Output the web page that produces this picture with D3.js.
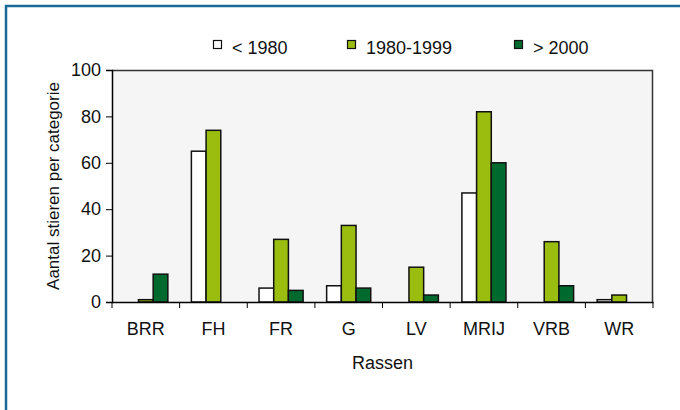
<!DOCTYPE html>
<html>
<head>
<meta charset="utf-8">
<script src="https://cdn.jsdelivr.net/npm/d3@7"></script>
<style>
  html, body { margin: 0; padding: 0; background: #fff; }
  text { font-family: "Liberation Sans", Arial, sans-serif; fill: #111; }
</style>
</head>
<body>
<svg id="chart" width="680" height="410"></svg>
<script>
const categories = ["BRR", "FH", "FR", "G", "LV", "MRIJ", "VRB", "WR"];
const seriesNames = ["< 1980", "1980-1999", "> 2000"];
const before1980 = [0, 65, 6, 7, 0, 47, 0, 1];
const from1980to1999 = [1, 74, 27, 33, 15, 82, 26, 3];
const after2000 = [12, 0, 5, 6, 3, 60, 7, 0];
const yTicks = [0, 20, 40, 60, 80, 100];
const seriesColors = ["#ffffff", "#9abd0f", "#006a2e"];
const xTitle = "Rassen";
const yTitle = "Aantal stieren per categorie";

const seriesValues = [before1980, from1980to1999, after2000];
const data = categories.map((c, i) => ({
  cat: c,
  values: seriesNames.map((s, j) => ({ key: s, idx: j, value: seriesValues[j][i] }))
}));

const svg = d3.select("#chart");
const W = 680, H = 410;
const m = { left: 112, right: 27, top: 70, bottom: 108 };
const pw = W - m.left - m.right, ph = H - m.top - m.bottom;
const FONT = '"Liberation Sans", Arial, sans-serif';

// outer frame (blue top and left lines)
svg.append("line").attr("x1", 5).attr("x2", W).attr("y1", 6).attr("y2", 6)
  .attr("stroke", "#1a6a96").attr("stroke-width", 2.5);
svg.append("line").attr("x1", 6).attr("x2", 6).attr("y1", 5).attr("y2", H)
  .attr("stroke", "#1a6a96").attr("stroke-width", 2.5);

const g = svg.append("g").attr("transform", `translate(${m.left},${m.top})`);

const x0 = d3.scaleBand().domain(categories).range([0, pw]).padding(0);
const off = x0.bandwidth() * 0.174;
const x1 = d3.scaleBand().domain(seriesNames).range([off, x0.bandwidth() - off]).padding(0);
const y = d3.scaleLinear().domain([0, 100]).range([ph, 0]);
const color = d3.scaleOrdinal().domain(seriesNames).range(seriesColors);

// plot background
g.append("rect").attr("x", 0).attr("y", 0).attr("width", pw).attr("height", ph)
  .attr("fill", "#f5f5f5");
// top & right border
g.append("path").attr("d", `M0,0.5H${pw - 0.5}V${ph}`)
  .attr("fill", "none").attr("stroke", "#333").attr("stroke-width", 1.5);

// bars
const groups = g.selectAll(".grp").data(data).join("g")
  .attr("transform", d => `translate(${x0(d.cat)},0)`);
groups.selectAll("rect").data(d => d.values.filter(v => v.value > 0)).join("rect")
  .attr("x", d => x1(d.key))
  .attr("width", x1.bandwidth())
  .attr("y", d => y(d.value))
  .attr("height", d => y(0) - y(d.value))
  .attr("fill", d => color(d.key))
  .attr("stroke", "#111")
  .attr("stroke-width", 1.5);

// y axis
const yAxis = g.append("g").call(d3.axisLeft(y).tickValues(yTicks).tickSize(6).tickPadding(5));
yAxis.select(".domain").attr("stroke", "#000").attr("stroke-width", 1.5);
yAxis.selectAll(".tick line").attr("stroke", "#000");
yAxis.selectAll(".tick text").style("font-size", "18px").attr("fill", "#111")
  .style("font-family", FONT);

// x axis
const xAxis = g.append("g").attr("transform", `translate(0,${ph})`)
  .call(d3.axisBottom(x0).tickSize(0).tickPadding(20));
xAxis.select(".domain").attr("stroke", "#000").attr("stroke-width", 1.5);
xAxis.selectAll(".tick text").style("font-size", "18px").attr("fill", "#111")
  .style("font-family", FONT);
// category boundary ticks
const bounds = categories.map(c => x0(c)).concat([pw]);
xAxis.selectAll(".btick").data(bounds).join("line").attr("class", "btick")
  .attr("x1", d => d).attr("x2", d => d).attr("y1", 0).attr("y2", 6)
  .attr("stroke", "#000").attr("stroke-width", 1);

// axis titles
svg.append("text").attr("x", m.left + pw / 2).attr("y", 369)
  .attr("text-anchor", "middle").style("font-size", "18px").text(xTitle);
svg.append("text").attr("transform", `translate(59,${m.top + ph / 2}) rotate(-90)`)
  .attr("text-anchor", "middle").style("font-size", "17px").text(yTitle);

// legend
const legendX = [213, 347, 514];
const leg = svg.append("g");
seriesNames.forEach((s, i) => {
  const lg = leg.append("g").attr("transform", `translate(${legendX[i]},0)`);
  lg.append("rect").attr("x", 0.5).attr("y", 40.5).attr("width", 8).attr("height", 8)
    .attr("fill", color(s)).attr("stroke", "#111").attr("stroke-width", 1.2);
  lg.append("text").attr("x", 19).attr("y", 54).style("font-size", "18px").text(s);
});
</script>
</body>
</html>
